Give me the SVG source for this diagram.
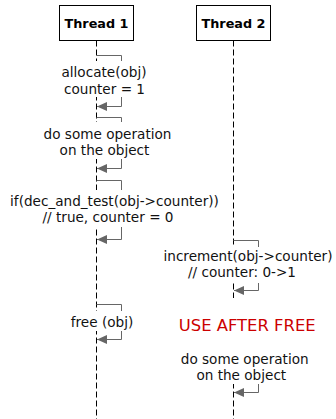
<svg xmlns="http://www.w3.org/2000/svg" width="336" height="419" viewBox="0 0 336 419">
<style>
.box{fill:#fff;stroke:#000;stroke-width:1}
.life{stroke:#000;stroke-width:1;stroke-dasharray:6 3;fill:none}
.msg{stroke:#666;stroke-width:1;fill:none}
.bg{fill:#fff;stroke:none}
.t{font-family:"DejaVu Sans",sans-serif;font-size:13.6px;fill:#111;text-anchor:middle}
.h{font-family:"DejaVu Sans",sans-serif;font-size:12.8px;font-weight:bold;fill:#000;text-anchor:middle}
.red{font-family:"DejaVu Sans",sans-serif;font-size:16.4px;fill:#cc0000;text-anchor:middle}
</style>
<defs>
<marker id="ah" viewBox="0 0 10 9" refX="10" refY="4.5" markerWidth="10" markerHeight="9" markerUnits="userSpaceOnUse" orient="auto">
<path d="M0,0 L10,4.5 L0,9 z" fill="#666"/>
</marker>
</defs>
<g id="thread1">
<line class="life" x1="96.5" y1="40.5" x2="96.5" y2="419"/>
<rect class="box" x="59.5" y="5.5" width="74" height="35"/>
<text class="h" x="96.5" y="27.5">Thread 1</text>
</g>
<g id="thread2">
<line class="life" x1="233.5" y1="40.5" x2="233.5" y2="419"/>
<rect class="box" x="196.5" y="5.5" width="74" height="35"/>
<text class="h" x="233.5" y="27.5">Thread 2</text>
</g>
<g id="connectors">
<path class="msg" d="M96.5,55.5 H121.5 V61"/>
<path class="msg" d="M121.5,97 V106.5 H97" marker-end="url(#ah)"/>
<path class="msg" d="M96.5,117.5 H121.5 V122"/>
<path class="msg" d="M121.5,159 V168.5 H97" marker-end="url(#ah)"/>
<path class="msg" d="M96.5,180.5 H121.5 V190"/>
<path class="msg" d="M121.5,227 V239.5 H97" marker-end="url(#ah)"/>
<path class="msg" d="M233.5,240.5 H258.5 V247"/>
<path class="msg" d="M258.5,283 V290.5 H234" marker-end="url(#ah)"/>
<path class="msg" d="M96.5,304.5 H121.5 V311"/>
<path class="msg" d="M121.5,331 V339.5 H97" marker-end="url(#ah)"/>
<path class="msg" d="M258.5,384 V392.5 H234" marker-end="url(#ah)"/>
</g>
<g id="label1">
<rect class="bg" x="60" y="61" width="88" height="36"/>
<text class="t" x="104" y="77">allocate(obj)</text>
<text class="t" x="104.5" y="94">counter = 1</text>
</g>
<g id="label2">
<rect class="bg" x="42" y="122" width="131" height="37"/>
<text class="t" x="107.5" y="138.5">do some operation</text>
<text class="t" x="104.5" y="155">on the object</text>
</g>
<g id="label3">
<rect class="bg" x="7" y="190" width="215" height="37"/>
<text class="t" x="114.5" y="205.5">if(dec_and_test(obj-&gt;counter))</text>
<text class="t" x="108" y="222">// true, counter = 0</text>
</g>
<g id="label4">
<rect class="bg" x="162" y="247" width="172" height="36"/>
<text class="t" x="248" y="260.5">increment(obj-&gt;counter)</text>
<text class="t" x="242" y="277">// counter: 0-&gt;1</text>
</g>
<g id="label5">
<rect class="bg" x="69" y="311" width="66" height="20"/>
<text class="t" x="102" y="327">free (obj)</text>
</g>
<g id="label6">
<rect class="bg" x="177" y="298" width="141" height="40"/>
<text class="red" x="247.2" y="330.5">USE AFTER FREE</text>
</g>
<g id="label7">
<rect class="bg" x="177" y="338" width="141" height="46"/>
<text class="t" x="244.7" y="363.5">do some operation</text>
<text class="t" x="241.3" y="379.5">on the object</text>
</g>
</svg>
